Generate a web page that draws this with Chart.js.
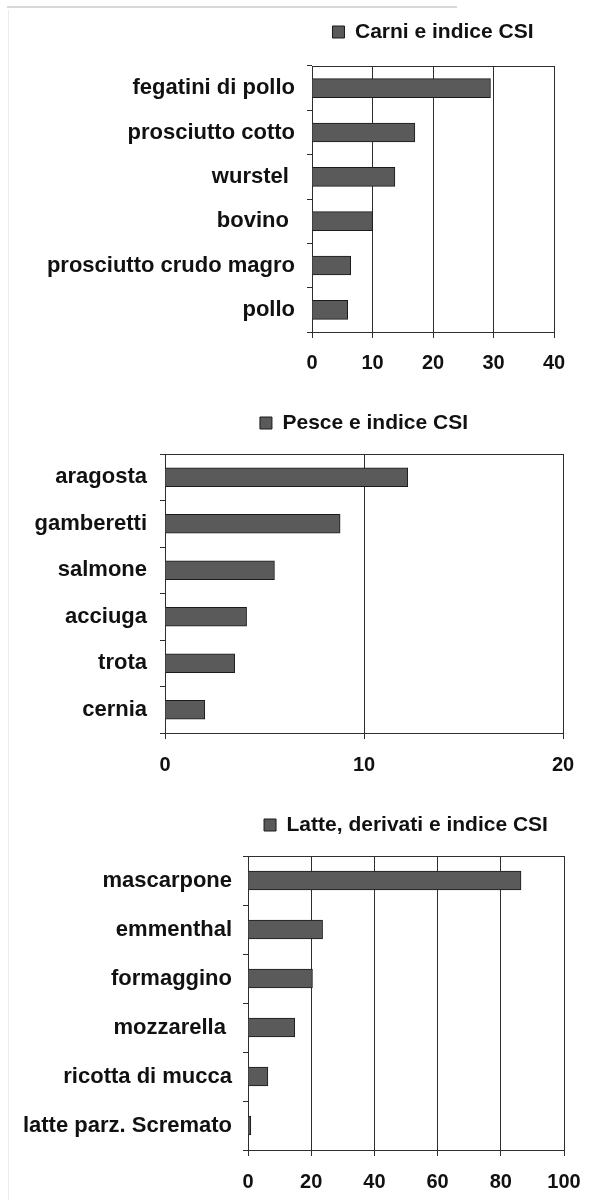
<!DOCTYPE html>
<html>
<head>
<meta charset="utf-8">
<script src="https://cdn.jsdelivr.net/npm/chart.js@4"></script>
<style>
  html, body { margin: 0; padding: 0; background: #fff; }
  body { width: 599px; height: 1200px; position: relative; overflow: hidden; }
  .box { position: absolute; left: 0; width: 599px; }
  .edge-top { position: absolute; left: 7px; top: 6px; width: 450px; border-top: 2px solid #d8d8d8; }
  .edge-left { position: absolute; left: 8px; top: 10px; height: 1190px; border-left: 1px solid #ececec; }
</style>
</head>
<body>
<div class="edge-top"></div>
<div class="edge-left"></div>
<div class="box" style="top:0;height:395px"><canvas id="carni" width="599" height="395"></canvas></div>
<div class="box" style="top:395px;height:395px"><canvas id="pesce" width="599" height="395"></canvas></div>
<div class="box" style="top:790px;height:410px"><canvas id="latte" width="599" height="410"></canvas></div>
<script>
// carni
const carniTitle = "Carni e indice CSI";
const carniLabels = ["fegatini di pollo", "prosciutto cotto", "wurstel ", "bovino ", "prosciutto crudo magro", "pollo"];
const carniValues = [29.5, 17.0, 13.7, 10.0, 6.4, 5.9];
const carniTicks = [0, 10, 20, 30, 40];

// pesce
const pesceTitle = "Pesce e indice CSI";
const pesceLabels = ["aragosta", "gamberetti", "salmone", "acciuga", "trota", "cernia"];
const pesceValues = [12.2, 8.8, 5.5, 4.1, 3.5, 2.0];
const pesceTicks = [0, 10, 20];

// latte
const latteTitle = "Latte, derivati e indice CSI";
const latteLabels = ["mascarpone", "emmenthal", "formaggino", "mozzarella ", "ricotta di mucca", "latte parz. Scremato"];
const latteValues = [86.4, 23.6, 20.4, 14.8, 6.3, 0.9];
const latteTicks = [0, 20, 40, 60, 80, 100];

Chart.defaults.font.family = "'Liberation Sans', Arial, sans-serif";
Chart.defaults.color = "#111";

const ink = "#2e2e2e";
const barFill = "#5a5a5a";
const barLine = "#1a1a1a";

function makeChart(id, title, labels, values, ticks, lay) {
    return new Chart(document.getElementById(id), {
        type: "bar",
        data: {
            labels: labels,
            datasets: [{
                label: title,
                data: values,
                xAxisID: "x",
                backgroundColor: barFill,
                borderColor: barLine,
                borderWidth: 1,
                barThickness: 19
            }]
        },
        options: {
            indexAxis: "y",
            responsive: false,
            animation: false,
            layout: { padding: { top: lay.padTop, right: 599 - lay.right, bottom: 0, left: 0 } },
            plugins: {
                legend: {
                    position: "top",
                    align: "center",
                    fullSize: false,
                    labels: { boxWidth: 12, boxHeight: 12, padding: 8, color: "#111", font: { size: 21, weight: "bold" } }
                },
                tooltip: { enabled: false }
            },
            scales: {
                y: {
                    grid: { drawOnChartArea: false, offset: true, tickLength: 5, color: ink, tickColor: ink },
                    border: { color: ink, width: 1 },
                    ticks: { padding: lay.yPad, color: "#111", font: { size: 22, weight: "bold" }, autoSkip: false },
                    afterFit: s => { s.width = lay.left; }
                },
                x: {
                    min: ticks[0],
                    max: ticks[ticks.length - 1],
                    grid: { color: ink, tickColor: ink, tickLength: 6 },
                    border: { color: ink, width: 1 },
                    ticks: { stepSize: ticks[1] - ticks[0], padding: lay.xPad, color: "#111", font: { size: 20, weight: "bold" } },
                    afterFit: s => { s.height = lay.xHeight; }
                },
                top: {
                    type: "linear",
                    axis: "x",
                    position: "top",
                    min: ticks[0],
                    max: ticks[ticks.length - 1],
                    grid: { display: false },
                    ticks: { display: false },
                    border: { color: ink, width: 1 },
                    afterFit: s => { s.height = lay.gap; }
                }
            }
        }
    });
}

makeChart("carni", carniTitle, carniLabels, carniValues, carniTicks,
    { left: 312, right: 554, padTop: 13.5, gap: 13.5, xHeight: 63, xPad: 13, yPad: 12 });
makeChart("pesce", pesceTitle, pesceLabels, pesceValues, pesceTicks,
    { left: 165, right: 563, padTop: 9.5, gap: 10.5, xHeight: 57, xPad: 14, yPad: 13 });
makeChart("latte", latteTitle, latteLabels, latteValues, latteTicks,
    { left: 248, right: 564, padTop: 16.5, gap: 10.5, xHeight: 50, xPad: 14, yPad: 11 });
</script>
</body>
</html>
